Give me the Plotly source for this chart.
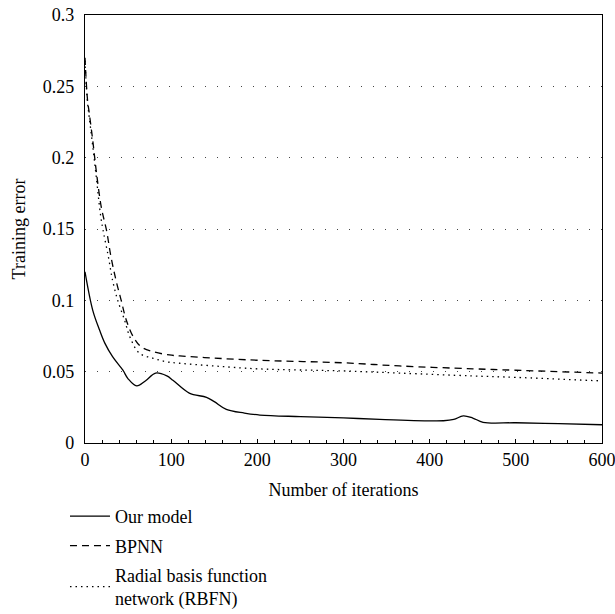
import plotly.graph_objects as go

# ---- data ----
our_x = [0, 9, 17, 23, 32, 44, 50, 60, 70, 82, 95, 102, 121, 141, 150, 164, 185, 203,
         250, 300, 342, 416, 428, 439, 450, 462, 500, 550, 600]
our_y = [0.120, 0.093, 0.079, 0.070, 0.0605, 0.051, 0.045, 0.040, 0.0435, 0.049, 0.047,
         0.044, 0.035, 0.032, 0.029, 0.0236, 0.021, 0.0196, 0.0185, 0.0176, 0.0166,
         0.0156, 0.0165, 0.019, 0.0175, 0.0145, 0.0142, 0.0136, 0.0128]

bp_x = [0, 1, 3, 5, 9, 13, 19, 25, 30, 36, 42, 48, 56, 65, 79, 98, 110, 150, 200,
        300, 365, 450, 500, 600]
bp_y = [0.270, 0.258, 0.240, 0.231, 0.212, 0.191, 0.165, 0.149, 0.131, 0.114, 0.100,
        0.086, 0.0745, 0.0675, 0.064, 0.0617, 0.061, 0.0595, 0.058, 0.0562, 0.054,
        0.052, 0.051, 0.049]

rb_x = [0, 1, 3, 5, 9, 13, 18, 21, 27, 32, 38, 46, 52, 63, 79, 94, 110, 150, 200,
        300, 365, 450, 500, 600]
rb_y = [0.268, 0.256, 0.238, 0.228, 0.208, 0.187, 0.160, 0.149, 0.131, 0.114, 0.100,
        0.086, 0.0745, 0.063, 0.0594, 0.057, 0.0559, 0.054, 0.052, 0.0505, 0.049,
        0.047, 0.046, 0.0435]

names = ["Our model", "BPNN", "Radial basis function<br>network (RBFN)"]
x_ticks = [0, 100, 200, 300, 400, 500, 600]
y_ticks = [0, 0.05, 0.1, 0.15, 0.2, 0.25, 0.3]
y_tick_text = ["0", "0.05", "0.1", "0.15", "0.2", "0.25", "0.3"]

FONT = "Liberation Serif"

fig = go.Figure()
fig.add_trace(go.Scatter(x=our_x, y=our_y, mode="lines", name=names[0], legendgroup="a",
                         line=dict(color="black", width=1.3, shape="spline", smoothing=1)))
fig.add_trace(go.Scatter(x=bp_x, y=bp_y, mode="lines", name=names[1], legendgroup="b",
                         line=dict(color="black", width=1.3, dash="7px,5px", shape="spline", smoothing=1)))
fig.add_trace(go.Scatter(x=rb_x, y=rb_y, mode="lines", name=names[2], legendgroup="c",
                         line=dict(color="black", width=1.3, dash="1.5px,4px", shape="spline", smoothing=1)))

fig.update_layout(
    width=615, height=614,
    margin=dict(l=85, r=13, t=15, b=171, autoexpand=False),
    paper_bgcolor="white", plot_bgcolor="white",
    font=dict(family=FONT, size=18, color="black"),
    showlegend=True,
    legend=dict(x=-0.0387, y=-0.1285, xanchor="left", yanchor="top",
                tracegroupgap=3, itemwidth=40,
                font=dict(family=FONT, size=18, color="black"),
                bgcolor="rgba(0,0,0,0)"),
)
fig.update_xaxes(
    range=[0, 600], tickvals=x_ticks, showgrid=False, zeroline=False,
    showline=True, linecolor="black", linewidth=1.3, mirror=True,
    ticks="inside", ticklen=4, tickcolor="black", ticklabeloverflow="allow",
    minor=dict(dtick=20, ticks="inside", ticklen=3, tickcolor="black", showgrid=False),
    title=dict(text="Number of iterations", font=dict(size=18), standoff=14),
)
fig.update_yaxes(
    range=[0, 0.3], tickvals=y_ticks, ticktext=y_tick_text,
    showgrid=True, gridcolor="#444", griddash="1px,11px", gridwidth=1,
    zeroline=False, showline=True, linecolor="black", linewidth=1.3, mirror=True,
    ticks="", ticklabelstandoff=6, ticklabeloverflow="allow",
    title=dict(text="Training error", font=dict(size=18, color="black"), standoff=12),
)

fig.write_html("out.html", config={"displayModeBar": False},
               post_script="document.body.style.margin='0px';")
